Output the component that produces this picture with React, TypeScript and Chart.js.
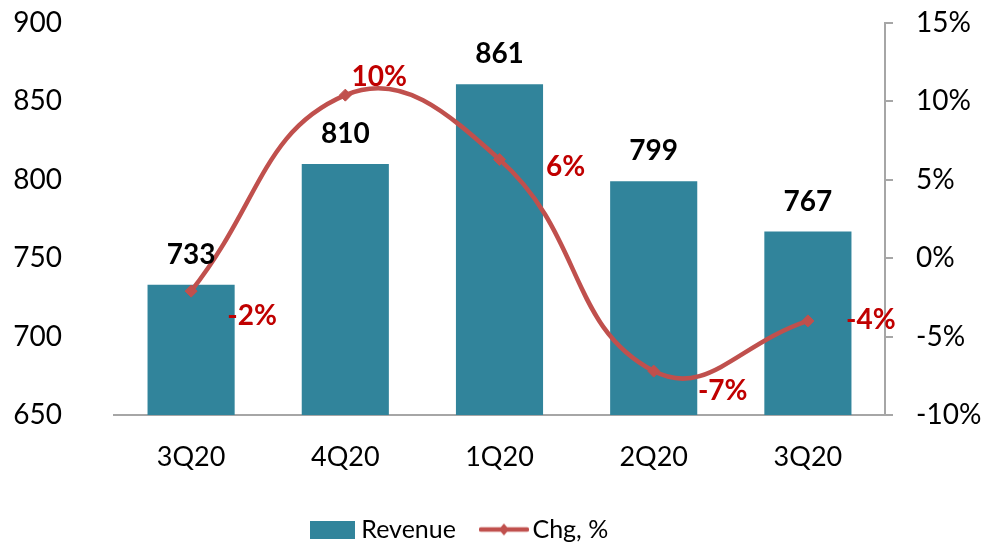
import React, { useEffect, useRef } from "react";
import { Chart, registerables } from "chart.js";

Chart.register(...registerables);

// ---- data ----
const categories = ["3Q20", "4Q20", "1Q20", "2Q20", "3Q20"];
const revenue = [733, 810, 861, 799, 767];
const chgPct = [-2.1, 10.4, 6.3, -7.2, -4.0];
const chgLabels = chgPct.map((v) => `${Math.round(v)}%`);
const revenueTicks = [650, 700, 750, 800, 850, 900];
const chgTicks = [-10, -5, 0, 5, 10, 15];
const seriesNames = ["Revenue", "Chg, %"];

// ---- style ----
const FONT = "Lato, 'Open Sans', sans-serif";
const FS = 28;
const XFS = 27;
const LEGEND_FS = 25;
const BAR_COLOR = "#31849B";
const LINE_COLOR = "#C0504D";
const LABEL_RED = "#C00000";
const AXIS_GRAY = "#A6A6A6";
// label placement relative to each line point (dx, dy)
const CHG_LABEL_OFFSETS: [number, number][] = [
  [61, 25],
  [34, -18],
  [66, 8],
  [69, 20],
  [63, -1],
];
const BAR_LABEL_GAP = 30;
const LEGEND_SHIFT_X = -29;
const LEGEND_SHIFT_Y = 7;

function makeBoxImage(): HTMLCanvasElement {
  const c = document.createElement("canvas");
  c.width = 45;
  c.height = 18;
  const g = c.getContext("2d")!;
  g.fillStyle = BAR_COLOR;
  g.fillRect(0, 0, 45, 18);
  return c;
}

function makeLineImage(): HTMLCanvasElement {
  const c = document.createElement("canvas");
  c.width = 50;
  c.height = 18;
  const g = c.getContext("2d")!;
  g.strokeStyle = LINE_COLOR;
  g.lineWidth = 4.5;
  g.lineCap = "round";
  g.beginPath();
  g.moveTo(2, 9);
  g.lineTo(48, 9);
  g.stroke();
  g.fillStyle = LINE_COLOR;
  g.beginPath();
  g.moveTo(25, 3);
  g.lineTo(30, 9);
  g.lineTo(25, 15);
  g.lineTo(20, 9);
  g.closePath();
  g.fill();
  return c;
}

const valueLabelPlugin = {
  id: "valueLabels",
  afterDatasetsDraw(chart: any) {
    const ctx = chart.ctx;
    const barMeta = chart.getDatasetMeta(0);
    const lineMeta = chart.getDatasetMeta(1);
    ctx.save();
    ctx.font = `bold ${FS}px ${FONT}`;
    ctx.textAlign = "center";
    ctx.textBaseline = "middle";
    ctx.fillStyle = "#000000";
    barMeta.data.forEach((el: any, i: number) => {
      ctx.fillText(String(revenue[i]), el.x, el.y - BAR_LABEL_GAP);
    });
    ctx.fillStyle = LABEL_RED;
    lineMeta.data.forEach((el: any, i: number) => {
      const [dx, dy] = CHG_LABEL_OFFSETS[i];
      ctx.fillText(chgLabels[i], el.x + dx, el.y + dy);
    });
    ctx.restore();
  },
};

const legendNudgePlugin = {
  id: "legendNudge",
  afterLayout(chart: any) {
    const l = chart.legend;
    if (!l) return;
    l.top += LEGEND_SHIFT_Y;
    l.bottom += LEGEND_SHIFT_Y;
    l.left += LEGEND_SHIFT_X * 2;
  },
};

export default function App() {
  const ref = useRef<HTMLCanvasElement | null>(null);

  useEffect(() => {
    if (!ref.current) return;
    const boxImg = makeBoxImage();
    const lineImg = makeLineImage();
    const chart = new Chart(ref.current, {
      type: "bar",
      data: {
        labels: categories,
        datasets: [
          {
            type: "bar",
            label: seriesNames[0],
            data: revenue,
            backgroundColor: BAR_COLOR,
            borderWidth: 0,
            barPercentage: 0.565,
            categoryPercentage: 1,
            yAxisID: "y",
            order: 2,
          },
          {
            type: "line",
            label: seriesNames[1],
            data: chgPct,
            borderColor: LINE_COLOR,
            backgroundColor: LINE_COLOR,
            borderWidth: 4.5,
            tension: 0.45,
            pointStyle: "rectRot",
            pointRadius: 6,
            pointBorderWidth: 1,
            pointBackgroundColor: LINE_COLOR,
            pointBorderColor: LINE_COLOR,
            yAxisID: "y1",
            order: 1,
          },
        ],
      },
      options: {
        responsive: false,
        animation: false,
        events: [],
        layout: { padding: { top: 23, right: 0, bottom: 0, left: 0 } },
        plugins: {
          tooltip: { enabled: false },
          title: { display: false },
          legend: {
            display: true,
            position: "bottom",
            labels: {
              usePointStyle: true,
              pointStyleWidth: 32,
              boxHeight: 18,
              padding: 32,
              color: "#000000",
              font: { family: FONT, size: LEGEND_FS },
              generateLabels: () => [
                {
                  text: seriesNames[0],
                  pointStyle: boxImg,
                  fillStyle: BAR_COLOR,
                  strokeStyle: BAR_COLOR,
                  lineWidth: 0,
                  hidden: false,
                  datasetIndex: 0,
                  fontColor: "#000000",
                },
                {
                  text: seriesNames[1],
                  pointStyle: lineImg,
                  fillStyle: LINE_COLOR,
                  strokeStyle: LINE_COLOR,
                  lineWidth: 0,
                  hidden: false,
                  datasetIndex: 1,
                  fontColor: "#000000",
                },
              ],
            },
          },
        },
        scales: {
          x: {
            grid: { display: false, drawTicks: false },
            border: { display: true, color: AXIS_GRAY, width: 2 },
            ticks: {
              color: "#000000",
              font: { family: FONT, size: XFS },
              padding: 26,
              maxRotation: 0,
              autoSkip: false,
            },
            afterFit: (s: any) => {
              s.height = 63;
            },
          },
          y: {
            position: "left",
            min: revenueTicks[0],
            max: revenueTicks[revenueTicks.length - 1],
            afterBuildTicks: (s: any) => {
              s.ticks = revenueTicks.map((v) => ({ value: v }));
            },
            grid: { display: false, drawTicks: false },
            border: { display: false },
            ticks: {
              color: "#000000",
              font: { family: FONT, size: FS },
              padding: 52,
            },
            afterFit: (s: any) => {
              s.width = 114;
              s.paddingTop = 0;
              s.paddingBottom = 0;
            },
          },
          y1: {
            position: "right",
            min: chgTicks[0],
            max: chgTicks[chgTicks.length - 1],
            afterBuildTicks: (s: any) => {
              s.ticks = chgTicks.map((v) => ({ value: v }));
            },
            grid: {
              drawOnChartArea: false,
              drawTicks: true,
              tickLength: 8,
              color: AXIS_GRAY,
              lineWidth: 2,
            },
            border: { display: true, color: AXIS_GRAY, width: 2 },
            ticks: {
              color: "#000000",
              font: { family: FONT, size: FS },
              padding: 23,
              callback: (v: any) => `${v}%`,
            },
            afterFit: (s: any) => {
              s.width = 98;
              s.paddingTop = 0;
              s.paddingBottom = 0;
            },
          },
        },
      },
      plugins: [valueLabelPlugin, legendNudgePlugin],
    });
    return () => chart.destroy();
  }, []);

  return (
    <div style={{ position: "absolute", left: 0, top: 0, width: 983, height: 545, background: "#ffffff" }}>
      <canvas ref={ref} width={983} height={545} />
    </div>
  );
}
